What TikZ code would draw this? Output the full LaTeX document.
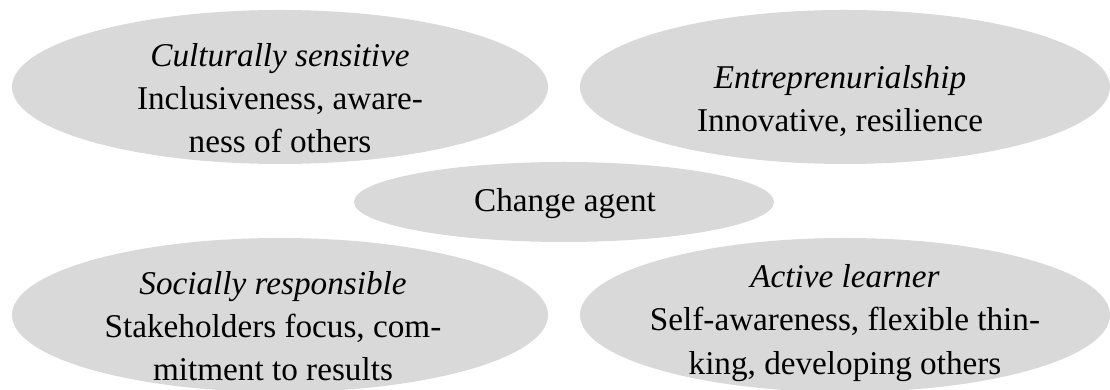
\documentclass[tikz,border=0pt]{standalone}
\usepackage{fontspec}
\setmainfont{Liberation Serif}
\usetikzlibrary{shapes.geometric}
\definecolor{ovalgray}{HTML}{D9D9D9}

\begin{document}
\begin{tikzpicture}
\useasboundingbox (0,0) rectangle (22.2,7.8);

\node[ellipse, fill=ovalgray, minimum width=10.72cm, minimum height=3.08cm] (cult) at (5.6,6.06) {};
\node[ellipse, fill=ovalgray, minimum width=10.6cm, minimum height=3.08cm] (entr) at (16.9,6.06) {};
\node[ellipse, fill=ovalgray, minimum width=8.4cm, minimum height=1.6cm] (agent) at (11.28,3.76) {};
\node[ellipse, fill=ovalgray, minimum width=10.72cm, minimum height=3.08cm] (soc) at (5.6,1.5) {};
\node[ellipse, fill=ovalgray, minimum width=10.6cm, minimum height=3.08cm] (learn) at (16.9,1.5) {};

\node[align=center, font=\fontsize{18.9}{24.6}\selectfont] (cult-txt) at (5.6,5.84)
  {\textit{Culturally sensitive}\\Inclusiveness, aware-\\ness of others};

\node[align=center, font=\fontsize{18.9}{24.6}\selectfont] (entr-txt) at (16.8,5.78)
  {\textit{Entreprenurialship}\\Innovative, resilience};

\node[font=\fontsize{18.9}{24.6}\selectfont] (agent-txt) at (11.3,3.72) {Change agent};

\node[align=center, font=\fontsize{18.9}{24.6}\selectfont] (soc-txt) at (5.46,1.28)
  {\textit{Socially responsible}\\Stakeholders focus, com-\\mitment to results};

\node[align=center, font=\fontsize{18.9}{24.6}\selectfont] (learn-txt) at (16.9,1.34)
  {\textit{Active learner}\\Self-awareness, flexible thin-\\king, developing others};
\end{tikzpicture}
\end{document}
